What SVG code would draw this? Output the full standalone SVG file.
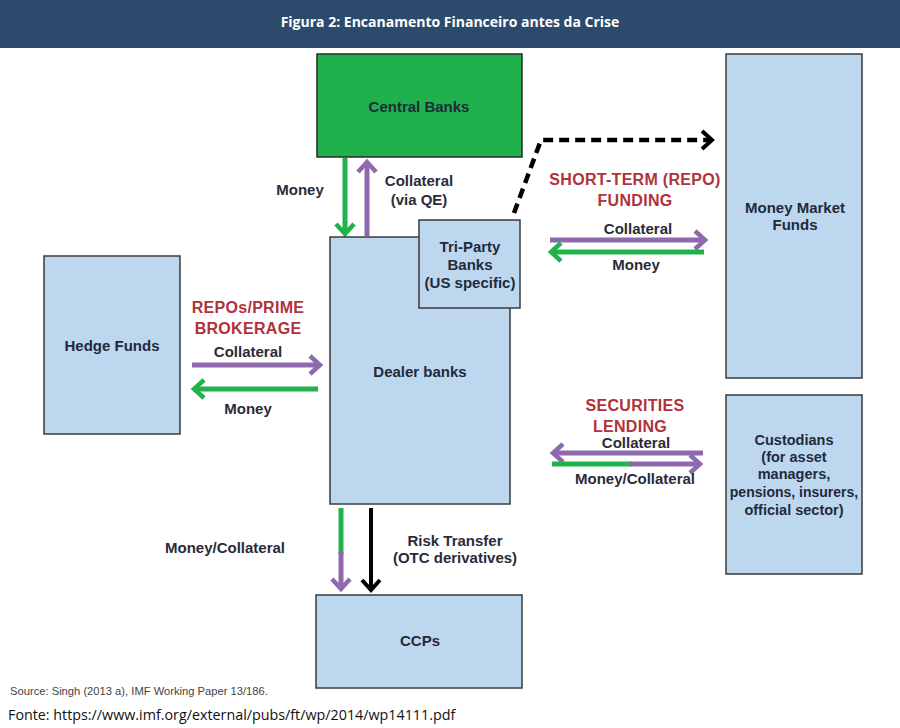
<svg xmlns="http://www.w3.org/2000/svg" width="900" height="728" viewBox="0 0 900 728">
<style>
.box{fill:#BDD7EE;stroke:#3a3a3a;stroke-width:1.5}
.t{font-family:"Liberation Sans",Arial,sans-serif;font-size:15px;font-weight:bold;fill:#1f2a3c;text-anchor:middle}
.lbl{font-family:"Liberation Sans",Arial,sans-serif;font-size:15px;font-weight:bold;fill:#2b2b3a;text-anchor:middle}
.red{font-family:"Liberation Sans",Arial,sans-serif;font-size:16px;font-weight:bold;fill:#B0323A;text-anchor:middle;letter-spacing:0.3px}
.g{stroke:#22B24C;stroke-width:5;fill:none}
.p{stroke:#8E69AE;stroke-width:5;fill:none}
.k{stroke:#000;stroke-width:4;fill:none}
</style>
<defs>
<marker id="hg" markerUnits="userSpaceOnUse" markerWidth="20" markerHeight="24" refX="13" refY="12" orient="auto" overflow="visible"><path d="M3,3 L13,12 L3,21" fill="none" stroke="#22B24C" stroke-width="4.5"/></marker>
<marker id="hp" markerUnits="userSpaceOnUse" markerWidth="20" markerHeight="24" refX="13" refY="12" orient="auto" overflow="visible"><path d="M3,3 L13,12 L3,21" fill="none" stroke="#8E69AE" stroke-width="4.5"/></marker>
<marker id="hk" markerUnits="userSpaceOnUse" markerWidth="20" markerHeight="24" refX="13" refY="12" orient="auto" overflow="visible"><path d="M3,3 L13,12 L3,21" fill="none" stroke="#000" stroke-width="4"/></marker>
</defs>
<rect x="0" y="0" width="900" height="728" fill="#fff"/>
<rect x="0" y="0" width="900" height="48" fill="#2C4A6B"/>
<text x="450" y="27" font-family="'Open Sans',sans-serif" font-size="14" font-weight="bold" fill="#fff" text-anchor="middle">Figura 2: Encanamento Financeiro antes da Crise</text>

<g id="connectors">
<path class="g" d="M345,158 V234" marker-end="url(#hg)"/>
<path class="p" d="M367,236 V162" marker-end="url(#hp)"/>
<path d="M514,213 L541,140 H712" fill="none" stroke="#000" stroke-width="4.5" stroke-dasharray="10,6" marker-end="url(#hk)"/>
<path class="p" d="M550,240 H705" marker-end="url(#hp)"/>
<path class="g" d="M704,252 H551" marker-end="url(#hg)"/>
<path class="p" d="M192,365 H320" marker-end="url(#hp)"/>
<path class="g" d="M318,389 H194" marker-end="url(#hg)"/>
<path class="p" d="M703,453 H553" marker-end="url(#hp)"/>
<path class="g" d="M552,464 H632"/>
<path class="p" d="M630,464 H700" marker-end="url(#hp)"/>
<path class="g" d="M341,508 V554"/>
<path class="p" d="M341,552 V589" marker-end="url(#hp)"/>
<path class="k" d="M371,508 V590" marker-end="url(#hk)"/>
</g>

<g id="central-banks"><rect x="317" y="54" width="205" height="103" fill="#20B04B" stroke="#2a2a2a" stroke-width="1.5"/><text class="t" x="419" y="112">Central Banks</text></g>
<g id="money-market-funds"><rect class="box" x="726" y="54" width="136" height="324"/><text class="t" x="795" y="213">Money Market</text><text class="t" x="795" y="230">Funds</text></g>
<g id="hedge-funds"><rect class="box" x="44" y="256" width="136" height="178"/><text class="t" x="112" y="351">Hedge Funds</text></g>
<g id="dealer-banks"><rect class="box" x="330" y="237" width="180" height="267"/><text class="t" x="420" y="377">Dealer banks</text></g>
<g id="tri-party-banks"><rect class="box" x="419" y="220" width="101" height="88"/><text class="t" x="470" y="252">Tri-Party</text><text class="t" x="470" y="270">Banks</text><text class="t" x="470" y="288">(US specific)</text></g>
<g id="custodians"><rect class="box" x="726" y="395" width="136" height="179"/><g style="font-size:14.2px"><text class="t" x="794" y="445" style="font-size:14.5px">Custodians</text><text class="t" x="794" y="462" style="font-size:14.5px">(for asset</text><text class="t" x="794" y="479" style="font-size:14.5px">managers,</text><text class="t" x="794" y="497" style="font-size:14px">pensions, insurers,</text><text class="t" x="794" y="515" style="font-size:14.5px">official sector)</text></g></g>
<g id="ccps"><rect class="box" x="316" y="595" width="206" height="93"/><text class="t" x="420" y="646">CCPs</text></g>

<g id="labels">
<text class="lbl" x="300" y="195">Money</text>
<text class="lbl" x="419" y="186">Collateral</text>
<text class="lbl" x="419" y="205">(via QE)</text>
<text class="red" x="635" y="185">SHORT-TERM (REPO)</text>
<text class="red" x="635" y="206">FUNDING</text>
<text class="lbl" x="638" y="234">Collateral</text>
<text class="lbl" x="636" y="270">Money</text>
<text class="red" x="248" y="313">REPOs/PRIME</text>
<text class="red" x="248" y="334">BROKERAGE</text>
<text class="lbl" x="248" y="357">Collateral</text>
<text class="lbl" x="248" y="414">Money</text>
<text class="red" x="635" y="411">SECURITIES</text>
<text class="red" x="630" y="432">LENDING</text>
<text class="lbl" x="636" y="448">Collateral</text>
<text class="lbl" x="635" y="484">Money/Collateral</text>
<text class="lbl" x="225" y="553">Money/Collateral</text>
<text class="lbl" x="455" y="546">Risk Transfer</text>
<text class="lbl" x="455" y="563">(OTC derivatives)</text>
</g>
<text x="10" y="695" font-family="'Liberation Sans',Arial,sans-serif" font-size="11.2" fill="#444">Source: Singh (2013 a), IMF Working Paper 13/186.</text>
<text x="8" y="720" font-family="'Open Sans',sans-serif" font-size="14.3" fill="#111">Fonte: https://www.imf.org/external/pubs/ft/wp/2014/wp14111.pdf</text>
</svg>
